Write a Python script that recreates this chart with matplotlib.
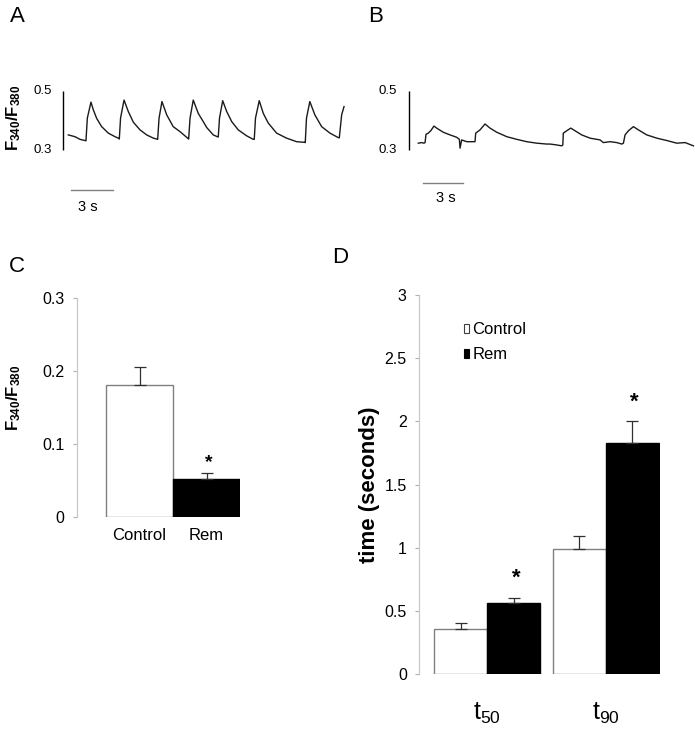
import matplotlib
matplotlib.use("Agg")
import matplotlib.pyplot as plt
from matplotlib.patches import Patch

plt.rcParams['font.family'] = ['Liberation Sans', 'DejaVu Sans']
plt.rcParams['mathtext.fontset'] = 'custom'
plt.rcParams['mathtext.rm'] = 'Liberation Sans'
plt.rcParams['mathtext.bf'] = 'Liberation Sans:bold'
plt.rcParams['mathtext.default'] = 'regular'

# ---------------- data ----------------
# Panel A: control Ca2+ transient trace (time in s, F340/F380 ratio)
trace_a_t = [0.00, 0.48, 0.84, 1.20, 1.27, 1.37, 1.63, 1.80, 2.04, 2.40,
             2.88, 3.36, 3.60, 3.67, 3.76, 4.01, 4.32, 4.68, 5.16, 5.64,
             6.12, 6.36, 6.43, 6.53, 6.74, 7.08, 7.55, 8.04, 8.59, 8.66,
             8.76, 8.99, 9.35, 9.71, 9.96, 10.43, 10.72, 10.79, 10.88, 11.11,
             11.40, 11.76, 12.23, 12.83, 13.31, 13.38, 13.47, 13.74, 14.03, 14.39,
             14.99, 15.71, 16.43, 16.98, 17.05, 17.14, 17.38, 17.74, 18.23, 18.83,
             19.42, 19.50, 19.67, 19.84]
trace_a_v = [0.351, 0.345, 0.336, 0.332, 0.331, 0.408, 0.462, 0.436, 0.407, 0.379,
             0.357, 0.345, 0.340, 0.337, 0.408, 0.469, 0.430, 0.394, 0.368, 0.351,
             0.340, 0.337, 0.336, 0.408, 0.464, 0.419, 0.379, 0.362, 0.340, 0.337,
             0.408, 0.469, 0.424, 0.396, 0.376, 0.351, 0.345, 0.344, 0.408, 0.467,
             0.430, 0.396, 0.368, 0.348, 0.336, 0.336, 0.408, 0.467, 0.424, 0.391,
             0.357, 0.340, 0.328, 0.326, 0.325, 0.408, 0.464, 0.419, 0.379, 0.357,
             0.342, 0.341, 0.419, 0.447]

# Panel B: Rem Ca2+ transient trace
trace_b_t = [0.00, 0.25, 0.42, 0.50, 0.57, 0.74, 0.92, 1.16, 1.36, 1.85,
             2.35, 2.84, 3.04, 3.09, 3.21, 3.59, 4.20, 4.25, 4.57, 4.94,
             5.31, 5.81, 6.55, 7.29, 8.03, 8.77, 9.51, 9.76, 10.25, 10.62,
             10.70, 10.74, 10.99, 11.29, 11.61, 12.10, 12.72, 13.46, 13.70, 14.20,
             14.70, 15.07, 15.19, 15.31, 15.56, 15.93, 16.30, 16.92, 17.66, 18.40,
             19.14, 19.76, 20.37]
trace_b_v = [0.323, 0.325, 0.323, 0.325, 0.353, 0.357, 0.365, 0.381, 0.374, 0.360,
             0.351, 0.343, 0.336, 0.306, 0.334, 0.328, 0.328, 0.357, 0.368, 0.388,
             0.374, 0.360, 0.345, 0.336, 0.328, 0.323, 0.320, 0.320, 0.317, 0.314,
             0.317, 0.357, 0.365, 0.374, 0.365, 0.351, 0.340, 0.334, 0.325, 0.328,
             0.325, 0.320, 0.323, 0.351, 0.365, 0.379, 0.368, 0.351, 0.340, 0.332,
             0.323, 0.325, 0.314]

trace_ticks = ["0.5", "0.3"]
trace_tick_vals = [0.5, 0.3]
scale_seconds = 3

# Panel C: amplitude
c_groups = ["Control", "Rem"]
c_values = [0.181, 0.052]
c_errors = [0.025, 0.008]
c_yticks = [0, 0.1, 0.2, 0.3]
c_yticklabels = ["0", "0.1", "0.2", "0.3"]

# Panel D: decay times
d_categories = ["t$_{50}$", "t$_{90}$"]
d_control = [0.36, 0.99]
d_control_err = [0.045, 0.105]
d_rem = [0.56, 1.83]
d_rem_err = [0.047, 0.17]
d_yticks = [0, 0.5, 1, 1.5, 2, 2.5, 3]
d_yticklabels = ["0", "0.5", "1", "1.5", "2", "2.5", "3"]

# ---------------- figure ----------------
W, H = 695, 729
fig = plt.figure(figsize=(W / 100, H / 100), dpi=100)


def box(l, r, t, b):
    return [l / W, 1 - b / H, (r - l) / W, (b - t) / H]


ylabel_ratio = "F$_{340}$/F$_{380}$"


def trace_panel(rect, xlim, t, v, vbar_x, ticklab_x, sbar_y, sbar_x0, slab_x, slab_y):
    ax = fig.add_axes(rect)
    ax.set_xlim(*xlim)
    ax.set_ylim(0.0797, 0.537)
    ax.axis('off')
    ax.plot(t, v, color='#1a1a1a', lw=1.0)
    ax.plot([vbar_x, vbar_x], [0.3, 0.5], color='black', lw=1.0, solid_capstyle='butt')
    for val, lab in zip(trace_tick_vals, trace_ticks):
        ax.text(ticklab_x, val, lab, ha='right', va='center', fontsize=9.5, clip_on=False)
    ax.plot([sbar_x0, sbar_x0 + scale_seconds], [sbar_y, sbar_y], color='#808080', lw=1.0)
    ax.text(slab_x, slab_y, f"{scale_seconds} s", ha='center', va='center', fontsize=10.5)
    return ax


axA = trace_panel(box(55, 350, 80, 215), (-0.957, 20.27), trace_a_t, trace_a_v,
                  -0.38, -1.19, 0.164, 0.19, 1.38, 0.107)
axB = trace_panel(box(400, 695, 80, 215), (-1.356, 20.49), trace_b_t, trace_b_v,
                  -0.69, -1.6, 0.189, 0.33, 2.05, 0.137)
fig.text(14 / W, 1 - 118 / H, ylabel_ratio, rotation=90, ha='center', va='center',
         fontsize=12, fontweight='bold')

# Panel C
axC = fig.add_axes(box(76.7, 240, 298.3, 516.7))
xc = list(range(len(c_groups)))
axC.bar(xc[0], c_values[0], width=1.0, color='white', edgecolor='#808080', linewidth=1.0)
axC.bar(xc[1], c_values[1], width=1.0, color='black', edgecolor='black', linewidth=1.0)
axC.errorbar(xc, c_values, yerr=[[0, 0], c_errors], fmt='none', ecolor='#303030',
             elinewidth=0.9, capsize=4, capthick=0.9)
axC.set_xlim(-0.94, 1.5)
axC.set_ylim(0, 0.3)
axC.set_yticks(c_yticks)
axC.set_yticklabels(c_yticklabels, fontsize=11.5)
axC.set_xticks(xc)
axC.set_xticklabels(c_groups, fontsize=12)
axC.tick_params(axis='x', length=0, pad=8)
axC.tick_params(axis='y', length=3, color='#b0b0b0', pad=6)
for s in ['top', 'right', 'bottom']:
    axC.spines[s].set_visible(False)
axC.spines['left'].set_color('#c8c8c8')
axC.spines['left'].set_linewidth(0.9)
axC.text(xc[1] + 0.03, c_values[1] + c_errors[1] + 0.014, "*", ha='center', va='center',
         fontsize=14, fontweight='bold')
fig.text(14 / W, 1 - 398 / H, ylabel_ratio, rotation=90, ha='center', va='center',
         fontsize=12, fontweight='bold')

# Panel D
axD = fig.add_axes(box(419.3, 660, 295, 674.3))
w = 0.448
xd = list(range(len(d_categories)))
xc_pos = [x - w / 2 for x in xd]
xr_pos = [x + w / 2 for x in xd]
axD.bar(xc_pos, d_control, width=w, color='white', edgecolor='#808080', linewidth=1.0,
        label='Control')
axD.bar(xr_pos, d_rem, width=w, color='black', edgecolor='black', linewidth=1.0,
        label='Rem')
axD.errorbar(xc_pos, d_control, yerr=[[0, 0], d_control_err], fmt='none', ecolor='#303030',
             elinewidth=0.9, capsize=4, capthick=0.9)
axD.errorbar(xr_pos, d_rem, yerr=[[0, 0], d_rem_err], fmt='none', ecolor='#303030',
             elinewidth=0.9, capsize=4, capthick=0.9)
for x, v, e in zip(xr_pos, d_rem, d_rem_err):
    axD.text(x + 0.02, v + e + 0.15, "*", ha='center', va='center', fontsize=16,
             fontweight='bold')
axD.set_xlim(-0.574, 1.459)
axD.set_ylim(0, 3)
axD.set_yticks(d_yticks)
axD.set_yticklabels(d_yticklabels, fontsize=11.5)
axD.set_xticks(xd)
axD.set_xticklabels(d_categories, fontsize=18)
axD.tick_params(axis='x', length=0, pad=19)
axD.tick_params(axis='y', length=3, color='#b0b0b0', pad=6)
for s in ['top', 'right', 'bottom']:
    axD.spines[s].set_visible(False)
axD.spines['left'].set_color('#c8c8c8')
axD.spines['left'].set_linewidth(0.9)
axD.set_ylabel("time (seconds)", fontsize=16, fontweight='bold', labelpad=3)
handles = [Patch(facecolor='white', edgecolor='#404040', linewidth=0.8),
           Patch(facecolor='black', edgecolor='black', linewidth=0.8)]
axD.legend(handles, ['Control', 'Rem'], loc='upper left', bbox_to_anchor=(0.185, 0.928),
           frameon=False, fontsize=12, handlelength=0.3, handleheight=0.45,
           handletextpad=0.2, labelspacing=0.6, borderaxespad=0, borderpad=0)

# Panel letters
for lab, x, y in [("A", 17, 16), ("B", 376, 16), ("C", 17, 267), ("D", 340, 258)]:
    fig.text(x / W, 1 - y / H, lab, ha='center', va='center', fontsize=16)

fig.savefig("out.png", dpi=100)
